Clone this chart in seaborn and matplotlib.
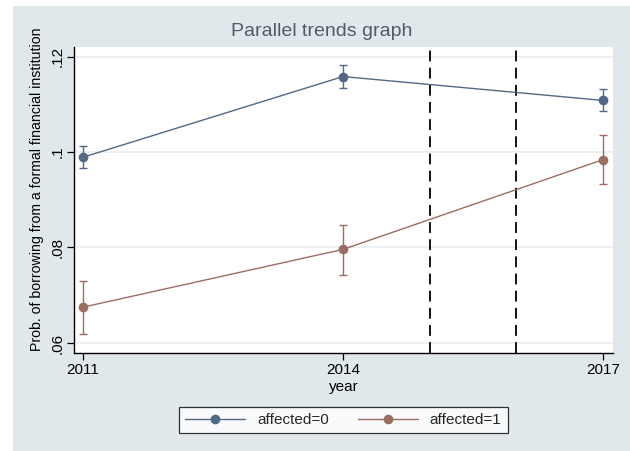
import matplotlib
matplotlib.use("Agg")
import matplotlib.pyplot as plt
import matplotlib.patches as mpatches
import numpy as np
import pandas as pd
import seaborn as sns

years = [2011, 2014, 2017]
groups = ["affected=0", "affected=1"]
mean_0 = [0.0989, 0.1158, 0.1108]
lo_0 = [0.0966, 0.1133, 0.1085]
hi_0 = [0.1012, 0.1182, 0.1131]
mean_1 = [0.0675, 0.0796, 0.0984]
lo_1 = [0.0619, 0.0742, 0.0932]
hi_1 = [0.0730, 0.0847, 0.1035]
event_years = [2015, 2016]
ytick_vals = [0.06, 0.08, 0.10, 0.12]
ytick_labels = [".06", ".08", ".1", ".12"]

sns.set_theme(style="white")
plt.rcParams["font.family"] = ["Liberation Sans", "DejaVu Sans"]

colors = {"affected=0": "#516984", "affected=1": "#9b6e61"}
bg = "#e1e8ec"

df = pd.DataFrame({
    "year": years * 2,
    "prob": mean_0 + mean_1,
    "group": [groups[0]] * 3 + [groups[1]] * 3,
})

fig = plt.figure(figsize=(6.3, 4.51), dpi=100)
fig.patch.set_facecolor("white")
fig.patches.append(mpatches.Rectangle((13 / 630, 0), 1, 1 - 6 / 451,
                                      transform=fig.transFigure, facecolor=bg,
                                      edgecolor="none", zorder=-10))
ax = fig.add_axes([74 / 630, 1 - 353 / 451, (613 - 74) / 630, (353 - 47) / 451])
ax.set_facecolor("white")

for yv in ytick_vals:
    ax.axhline(yv, color="#e6ecef", lw=1.1, zorder=0)

for xv in event_years:
    ax.axvline(xv, color="black", lw=1.3, ls=(0, (6, 3.5)), zorder=1)

for g, m, lo, hi in [(groups[0], mean_0, lo_0, hi_0), (groups[1], mean_1, lo_1, hi_1)]:
    m = np.array(m); lo = np.array(lo); hi = np.array(hi)
    ax.errorbar(years, m, yerr=[m - lo, hi - m], fmt="none", ecolor=colors[g],
                elinewidth=1.0, capsize=3, capthick=1.0, zorder=2)

sns.lineplot(data=df, x="year", y="prob", hue="group", palette=colors,
             marker="o", markersize=7, markeredgewidth=0, linewidth=1.0,
             ax=ax, legend=False, zorder=3)

ax.set_xlim(2010.896, 2017.115)
ax.set_ylim(0.0579, 0.12199)
ax.set_xticks(years)
ax.set_xticklabels([str(y) for y in years], fontsize=11)
ax.set_yticks(ytick_vals)
ax.set_yticklabels(ytick_labels, fontsize=11, rotation=90, va="center")
ax.tick_params(axis="both", direction="out", length=5, width=0.9, color="black",
               labelcolor="black", pad=2, bottom=True, left=True)
for s in ["top", "right"]:
    ax.spines[s].set_visible(False)
for s in ["left", "bottom"]:
    ax.spines[s].set_color("black")
    ax.spines[s].set_linewidth(1.0)

ax.set_xlabel("year", fontsize=11, color="black", labelpad=2)
ax.set_ylabel("Prob. of borrowing from a formal financial institution",
              fontsize=10.2, color="black", labelpad=4)
ax.yaxis.set_label_coords(-0.056, (353 - 189) / 306)
fig.text(322 / 630, 1 - 32 / 451, "Parallel trends graph", ha="center", va="center",
         fontsize=14, color="#555b66")

handles = [plt.Line2D([], [], color=colors[g], lw=1.0, marker="o", markersize=7,
                      markeredgewidth=0) for g in groups]
leg = fig.legend(handles, groups, loc="center", bbox_to_anchor=(343.5 / 630, 1 - 420 / 451),
                 ncol=2, frameon=True, fancybox=False, edgecolor="black",
                 fontsize=11, handlelength=3.9, columnspacing=1.9,
                 borderpad=0.4, handletextpad=0.8)
leg.get_frame().set_linewidth(0.9)
leg.get_frame().set_facecolor("white")

fig.savefig("out.png", dpi=100, facecolor=fig.get_facecolor())
